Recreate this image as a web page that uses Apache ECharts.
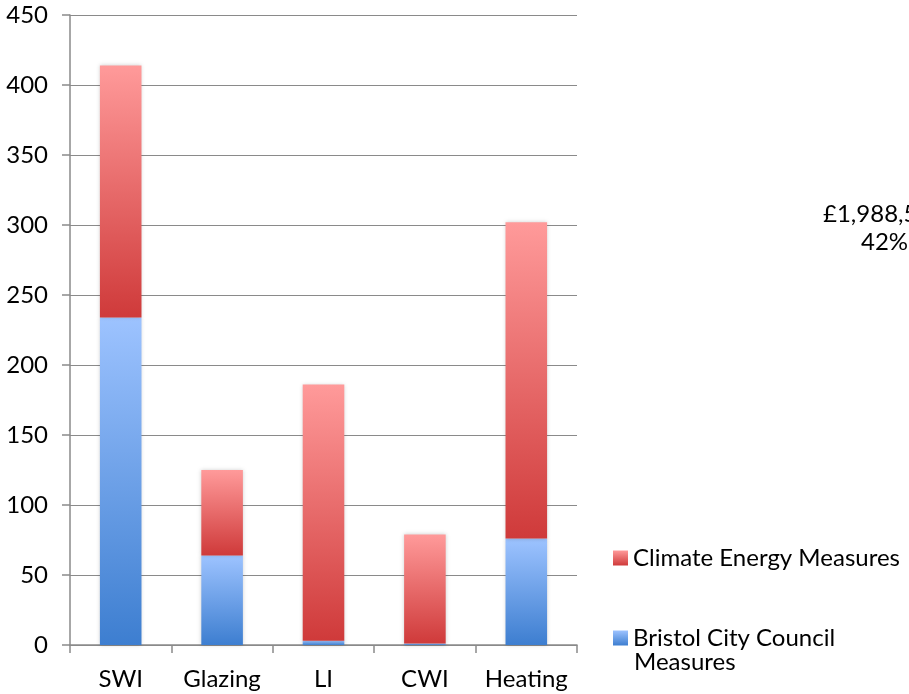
<!DOCTYPE html>
<html>
<head>
<meta charset="utf-8">
<script src="https://cdn.jsdelivr.net/npm/echarts@6/dist/echarts.min.js"></script>
<style>
  html, body { margin: 0; padding: 0; background: #fff; }
  #chart { width: 909px; height: 694px; }
</style>
</head>
<body>
<div id="chart"></div>
<script>
// Measures delivered per category, split by funding source
const categories = ['SWI', 'Glazing', 'LI', 'CWI', 'Heating'];
const councilValues = [234, 64, 3, 1, 76];
const climateValues = [180, 61, 183, 78, 226];
const yTicks = [0, 50, 100, 150, 200, 250, 300, 350, 400, 450];

const FONT = 'Lato, "Open Sans", sans-serif';
const AXIS_GREY = '#8a8a8a';

function vGrad(top, bottom) {
  return new echarts.graphic.LinearGradient(0, 0, 0, 1, [
    { offset: 0, color: top },
    { offset: 1, color: bottom }
  ]);
}

const chart = echarts.init(document.getElementById('chart'), null, { renderer: 'canvas' });

chart.setOption({
  animation: false,
  backgroundColor: '#ffffff',
  grid: { left: 70, right: 332, top: 15, bottom: 49, containLabel: false },
  xAxis: {
    type: 'category',
    data: categories,
    axisLine: { show: true, lineStyle: { color: AXIS_GREY, width: 1.5 } },
    axisTick: { show: true, alignWithLabel: false, length: 8, lineStyle: { color: AXIS_GREY, width: 1.5 } },
    axisLabel: { interval: 0, hideOverlap: false, color: '#000', fontFamily: FONT, fontSize: 24, margin: 22 }
  },
  yAxis: {
    type: 'value',
    min: yTicks[0],
    max: yTicks[yTicks.length - 1],
    interval: yTicks[1] - yTicks[0],
    axisLine: { show: true, lineStyle: { color: AXIS_GREY, width: 1.5 } },
    axisTick: { show: true, length: 8, lineStyle: { color: AXIS_GREY, width: 1.5 } },
    splitLine: { show: true, lineStyle: { color: AXIS_GREY, width: 1.2 } },
    axisLabel: { color: '#000', fontFamily: FONT, fontSize: 24, margin: 22 }
  },
  legend: [
    {
      data: ['Climate Energy Measures'],
      left: 608, top: 541,
      icon: 'rect', itemWidth: 15, itemHeight: 15, itemGap: 6,
      textStyle: { color: '#000', fontFamily: FONT, fontSize: 24 }
    },
    {
      data: ['Bristol City Council Measures'],
      left: 608, top: 621,
      icon: 'rect', itemWidth: 15, itemHeight: 15, itemGap: 6,
      formatter: () => 'Bristol City Council',
      textStyle: { color: '#000', fontFamily: FONT, fontSize: 24 }
    }
  ],
  graphic: [
    { type: 'text', left: 634, top: 650,
      style: { text: 'Measures', fill: '#000', font: '24px ' + FONT } },
    { type: 'text', left: 823, top: 202,
      style: { text: '£1,988,5', fill: '#000', font: '24px ' + FONT } },
    { type: 'text', left: 861, top: 230,
      style: { text: '42%', fill: '#000', font: '24px ' + FONT } }
  ],
  series: [
    {
      name: 'Bristol City Council Measures',
      type: 'bar',
      stack: 'total',
      barWidth: '41%',
      data: councilValues,
      itemStyle: {
        color: vGrad('#9dc3ff', '#3d7ed0'),
        shadowBlur: 4, shadowColor: 'rgba(0,0,0,0.18)'
      }
    },
    {
      name: 'Climate Energy Measures',
      type: 'bar',
      stack: 'total',
      barWidth: '41%',
      data: climateValues,
      itemStyle: {
        color: vGrad('#ff9a9a', '#cf3a3a'),
        shadowBlur: 4, shadowColor: 'rgba(0,0,0,0.18)'
      }
    }
  ]
});
</script>
</body>
</html>
